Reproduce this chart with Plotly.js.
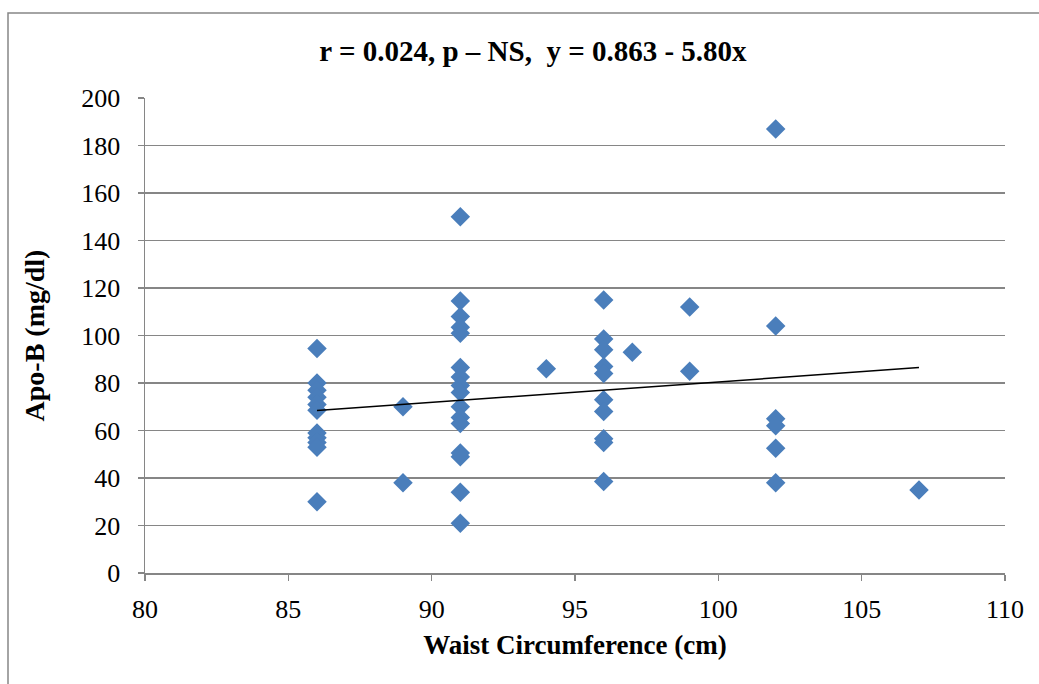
<!DOCTYPE html>
<html>
<head>
<meta charset="utf-8">
<script src="https://cdn.plot.ly/plotly-3.0.1.min.js"></script>
<style>html,body{margin:0;padding:0;background:#fff;}#chart{width:1039px;height:684px;}</style>
</head>
<body>
<div id="chart"></div>
<script>
const waist = [86,86,86,86,86,86,86,86,86,86,86,
  89,89,
  91,91,91,91,91,91,91,91,91,91,91,91,91,91,91,91,
  94,
  96,96,96,96,96,96,96,96,96,96,
  97,
  99,99,
  102,102,102,102,102,102,
  107];
const apoB = [94.5,80,77,74,71,68.5,59,57,55,53,30,
  70,38,
  150,114.5,108,103.5,101,86.5,82.5,79,76,70,65.5,63,50.5,49,34,21,
  86,
  115,98.5,94,87,84,73,68,56.5,55,38.5,
  93,
  112,85,
  187,104,65,62,52.5,38,
  35];
const trendX = [86, 107];
const trendY = [68.4, 86.5];
const xTicks = [80,85,90,95,100,105,110];
const yTicks = [0,20,40,60,80,100,120,140,160,180,200];

const serif = "Liberation Serif, Times New Roman, serif";
const gray = "#868686";

const data = [
  {x: waist, y: apoB, type: 'scatter', mode: 'markers',
   marker: {symbol: 'diamond', size: 15, color: '#4A7EBB', line: {width: 0}},
   hoverinfo: 'x+y', showlegend: false},
  {x: trendX, y: trendY, type: 'scatter', mode: 'lines',
   line: {color: '#000', width: 1.5}, showlegend: false}
];

const layout = {
  width: 1039, height: 684,
  margin: {l: 145, r: 34, t: 98, b: 111},
  paper_bgcolor: '#fff', plot_bgcolor: '#fff',
  font: {family: serif, size: 26, color: '#000'},
  title: {text: '<b>r = 0.024, p \u2013 NS,  y = 0.863 - 5.80x</b>',
    font: {family: serif, size: 29, color: '#000'},
    x: 0.513, xanchor: 'center', xref: 'container', y: 0.926, yref: 'container', yanchor: 'middle'},
  xaxis: {range: [80, 110], tickvals: xTicks, ticktext: xTicks.map(String),
    showgrid: false, zeroline: false, showline: true, linecolor: gray, linewidth: 1.5,
    ticks: 'outside', ticklen: 6, tickwidth: 1.5, tickcolor: gray, ticklabelstandoff: 6,
    tickfont: {family: serif, size: 26, color: '#000'},
    title: {text: '<b>Waist Circumference (cm)</b>', font: {family: serif, size: 27, color: '#000'}, standoff: 12}},
  yaxis: {range: [0, 200], tickvals: yTicks, ticktext: yTicks.map(String),
    showgrid: true, gridcolor: gray, gridwidth: 1.5, zeroline: false,
    showline: true, linecolor: gray, linewidth: 1.5,
    ticks: 'outside', ticklen: 6, tickwidth: 1.5, tickcolor: gray, ticklabelstandoff: 12,
    tickfont: {family: serif, size: 26, color: '#000'},
    title: {text: '<b>Apo-B (mg/dl)</b>', font: {family: serif, size: 28, color: '#000'}, standoff: 28}},
  shapes: [
    {type: 'rect', xref: 'paper', yref: 'paper',
     x0: (8-145)/860, x1: (1050-145)/860, y0: (573-700)/475, y1: (573-13)/475,
     line: {color: gray, width: 1.5}, fillcolor: 'rgba(0,0,0,0)', layer: 'below'}
  ]
};

Plotly.newPlot('chart', data, layout, {displayModeBar: false, staticPlot: true});
</script>
</body>
</html>
